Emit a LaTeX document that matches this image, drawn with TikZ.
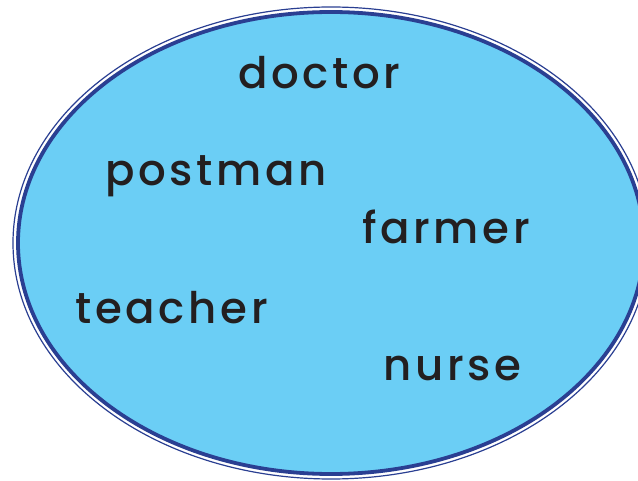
\documentclass[tikz,border=0pt]{standalone}
\usepackage{fontspec}
\setmainfont{Poppins}[UprightFont=* Medium,LetterSpace=8.5]
\definecolor{fillblue}{HTML}{6BCEF5}
\definecolor{rimblue}{HTML}{2A3F92}
\definecolor{ink}{HTML}{231F20}
\begin{document}
\begin{tikzpicture}[x=1pt,y=-1pt,
  word/.style={anchor=base west,inner sep=0pt,text=ink,font=\fontsize{43.5}{47}\selectfont}]
\useasboundingbox (0,0) rectangle (638,481);
\coordinate (c) at (331,243);
\draw[rimblue,line width=1.2pt] (c) ellipse [x radius=318,y radius=236];
\draw[rimblue,fill=fillblue,line width=3.8pt] (c) ellipse [x radius=313,y radius=231];
\node[word] (doctor) at (238,89) {doctor};
\node[word] (postman) at (105,186) {postman};
\node[word] (farmer) at (362,244) {farmer};
\node[word] (teacher) at (75,324) {teacher};
\node[word] (nurse) at (383,381) {nurse};
\end{tikzpicture}
\end{document}
